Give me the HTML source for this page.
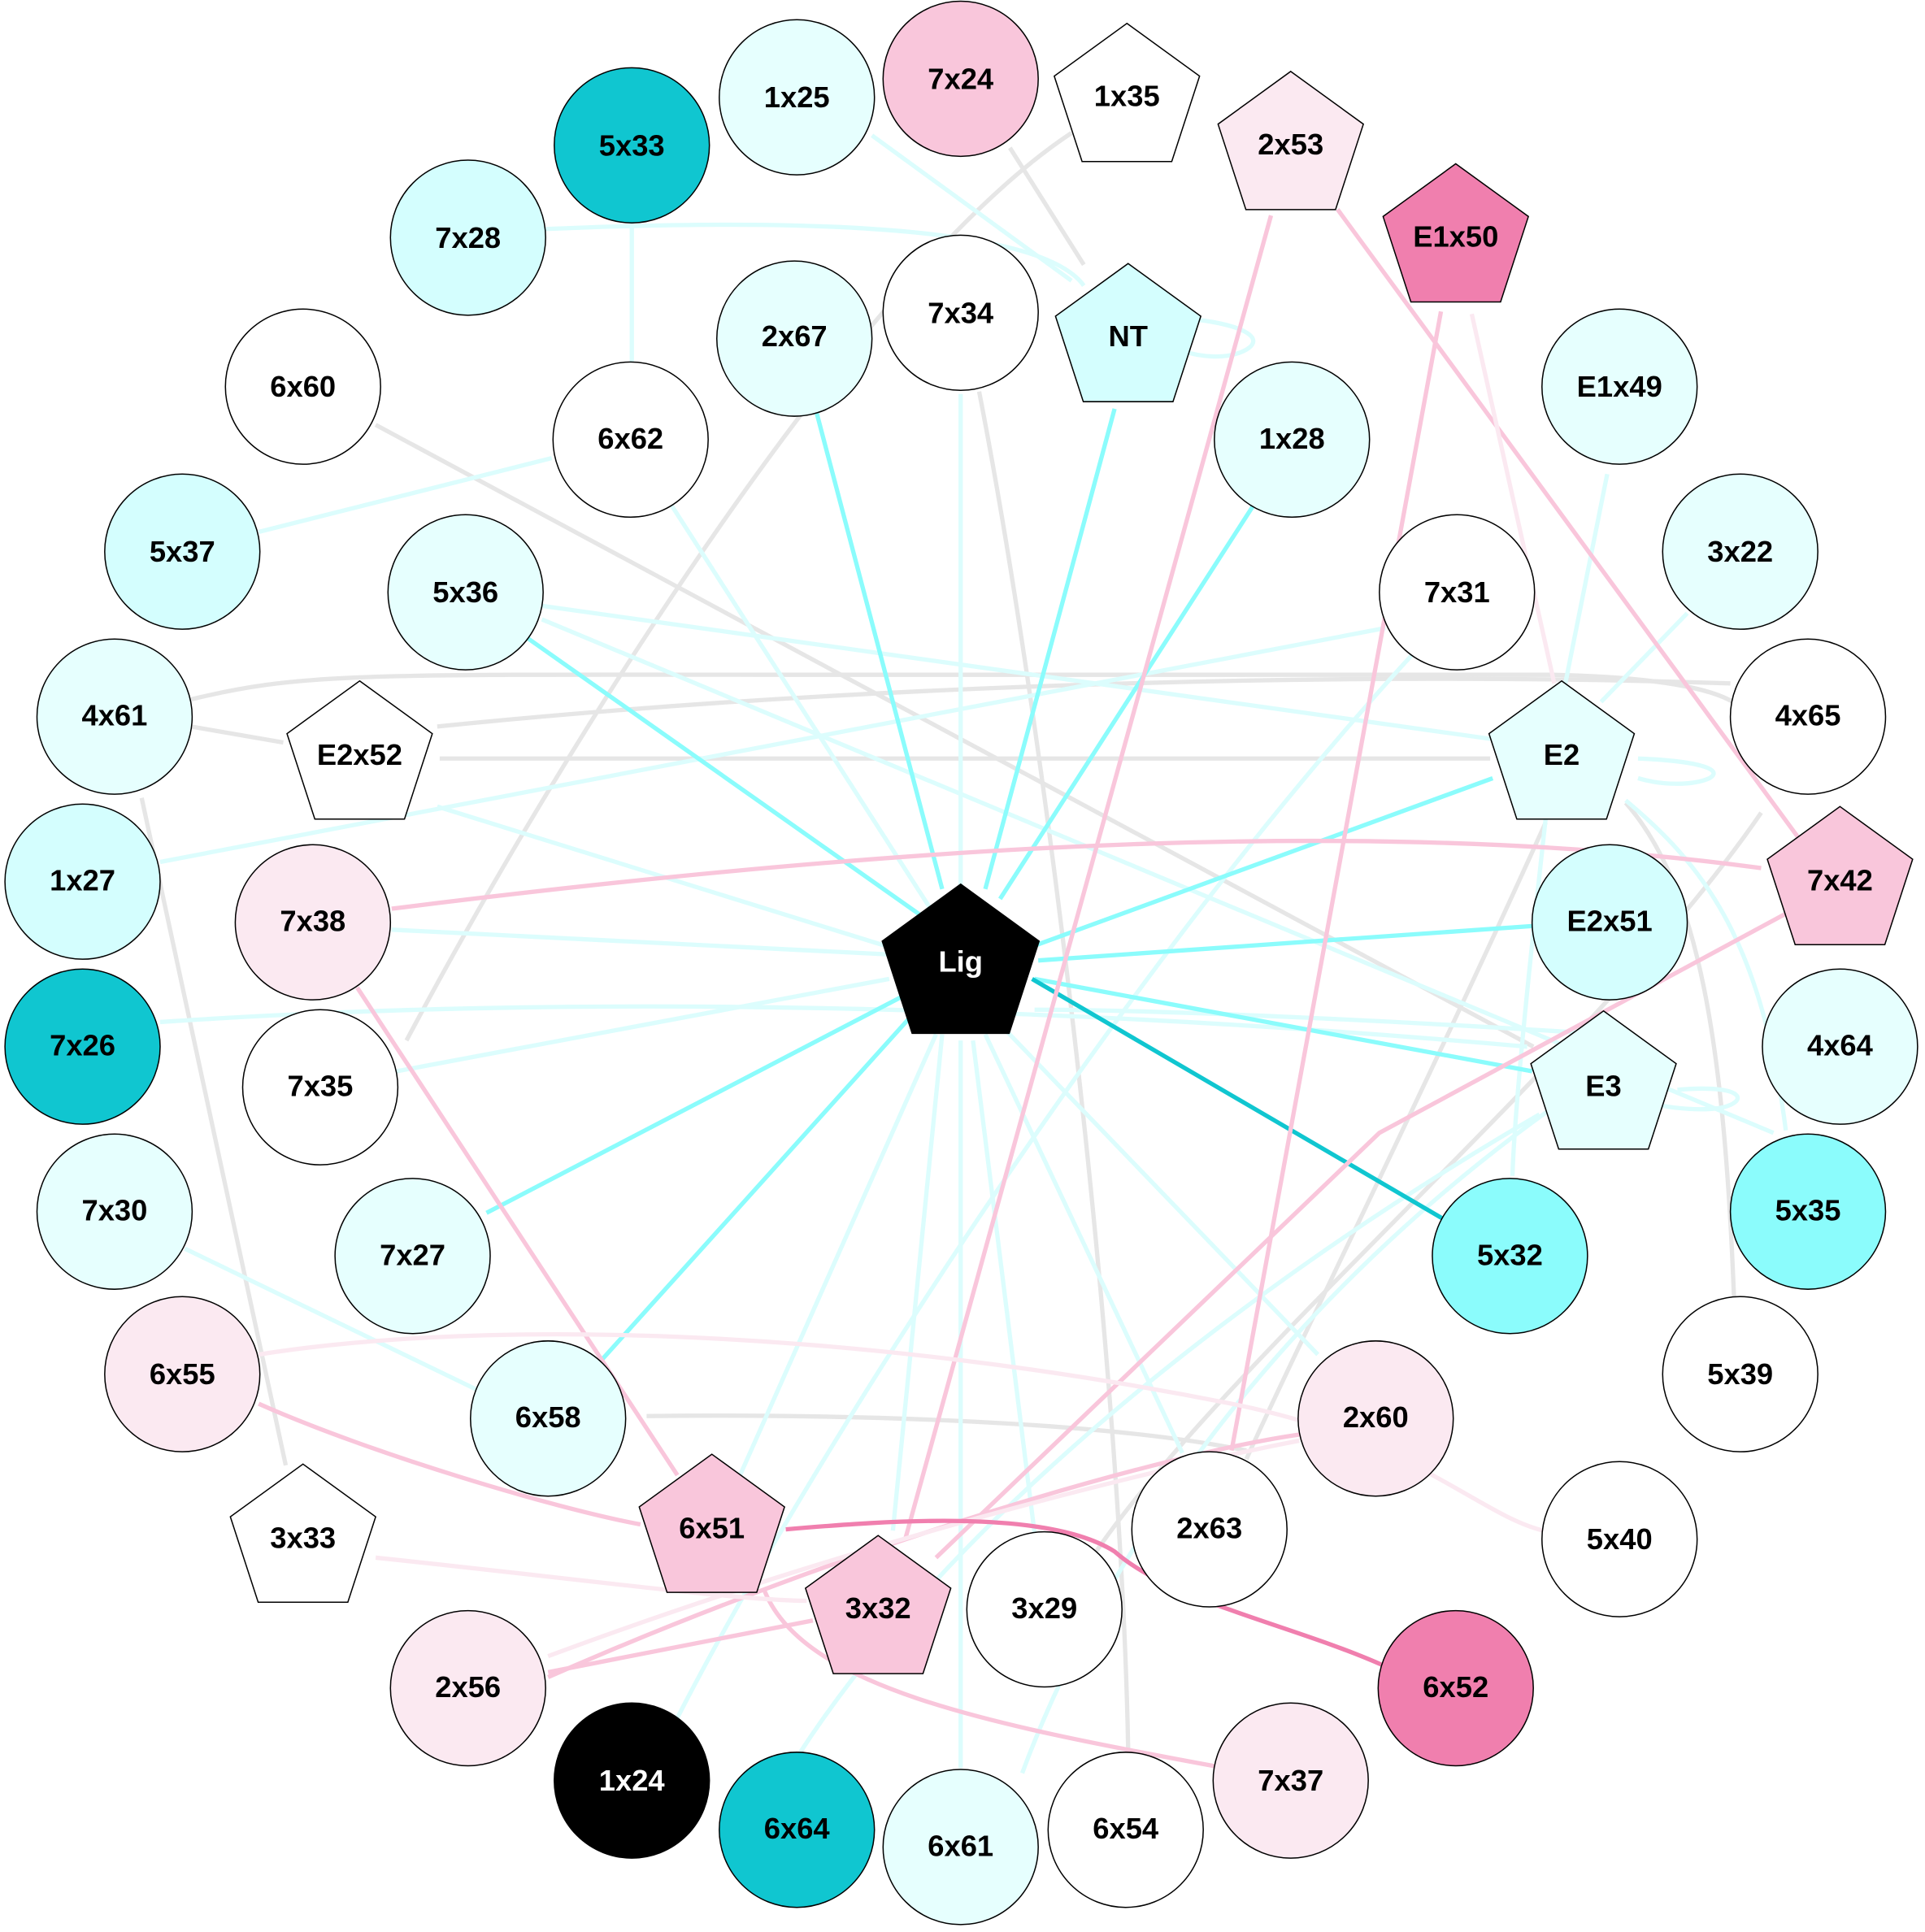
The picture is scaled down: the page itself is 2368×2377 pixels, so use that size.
<!DOCTYPE html>
<html><head><meta charset="utf-8"><style>
html,body{margin:0;padding:0;background:#fff}
svg{display:block}
text{font-family:"Liberation Sans",Arial,sans-serif;font-weight:bold;font-size:24px;text-anchor:middle;dominant-baseline:central}
</style></head><body>
<svg width="2368" height="2377" viewBox="0 0 1563 1569" xmlns="http://www.w3.org/2000/svg">
<g fill="none" stroke-width="3.5">
<g stroke="#e6e6e6">
<path d="M870,108 C700,220 460,600 330,845"/>
<path d="M820,120 L880,215"/>
<path d="M305,345 L1245,850"/>
<path d="M795,318 C850,600 910,1100 916,1420"/>
<path d="M155,568 C250,545 300,548 700,548 L1260,548 C1350,550 1390,560 1407,570"/>
<path d="M355,590 C700,555 1100,545 1405,555"/>
<path d="M357,616 L1210,616"/>
<path d="M155,590 L230,603"/>
<path d="M115,648 L232,1190"/>
<path d="M1255,668 C1150,900 1050,1100 1012,1185"/>
<path d="M1430,660 C1300,850 1000,1100 890,1260"/>
<path d="M1320,652 C1380,720 1400,850 1408,1055"/>
<path d="M525,1150 C700,1148 900,1155 1012,1178"/>
</g>
<g stroke="#dcfdfd">
<path d="M443,186 C700,175 850,190 880,232"/>
<path d="M513,180 L513,295"/>
<path d="M708,110 L870,228"/>
<path d="M955,258 C1010,262 1030,275 1010,285 C995,292 975,290 960,285"/>
<path d="M210,432 L448,372"/>
<path d="M440,492 L1210,600"/>
<path d="M440,503 L1440,920"/>
<path d="M130,700 L1125,510"/>
<path d="M1150,528 C900,800 650,1200 550,1395"/>
<path d="M1330,616 C1380,618 1400,625 1388,632 C1375,638 1350,638 1330,632"/>
<path d="M1362,885 C1420,880 1420,896 1395,900 C1380,902 1360,900 1350,898"/>
<path d="M1305,385 L1270,560"/>
<path d="M1370,498 L1300,570"/>
<path d="M130,830 C500,805 900,820 1240,850"/>
<path d="M1255,665 C1240,800 1230,900 1228,955"/>
<path d="M150,1014 L390,1130"/>
<path d="M1250,905 C1000,1050 750,1250 630,1455"/>
<path d="M1260,900 C1050,1050 900,1250 830,1440"/>
<path d="M545,410 L760,745"/>
<path d="M1320,650 C1380,700 1430,760 1450,918"/>
<path d="M780,320 L780,720"/>
<path d="M355,655 L725,770"/>
<path d="M318,755 L720,775"/>
<path d="M322,870 L722,795"/>
<path d="M765,840 L725,1243"/>
<path d="M780,845 L780,1436"/>
<path d="M800,840 L960,1180"/>
<path d="M815,835 L1070,1100"/>
<path d="M760,840 L600,1200"/>
<path d="M790,845 L840,1245"/>
<path d="M1305,840 C1150,830 950,820 840,820"/>
</g>
<g stroke="#8bfcfc">
<path d="M663,335 L765,722"/>
<path d="M905,332 L800,722"/>
<path d="M1018,410 L812,730"/>
<path d="M428,518 L750,745"/>
<path d="M1212,632 L840,768"/>
<path d="M1245,752 L843,780"/>
<path d="M840,795 L1244,870"/>
<path d="M395,985 L735,808"/>
<path d="M488,1105 L740,825"/>
</g>
<path stroke="#10c6d0" d="M838,795 L1172,990"/>
<g stroke="#f9c6db">
<path d="M1032,175 L735,1250"/>
<path d="M1170,253 L1000,1178"/>
<path d="M1086,170 L1460,680"/>
<path d="M290,802 L550,1198"/>
<path d="M210,1140 C300,1180 450,1225 520,1238"/>
<path d="M620,1290 C650,1370 800,1400 990,1435"/>
<path d="M318,738 C700,690 1100,660 1430,705"/>
<path d="M1450,742 L1120,920 L760,1265"/>
<path d="M445,1358 L660,1316"/>
<path d="M445,1362 C700,1250 950,1180 1055,1165"/>
</g>
<g stroke="#fbe9f1">
<path d="M1195,255 L1262,555"/>
<path d="M210,1100 C400,1070 700,1080 1000,1140 C1150,1170 1200,1230 1253,1243"/>
<path d="M305,1265 C450,1280 600,1300 655,1300"/>
<path d="M445,1345 C700,1250 950,1190 1055,1170"/>
</g>
<path stroke="#f07fae" d="M638,1242 C720,1235 850,1225 905,1260 C950,1300 1050,1320 1122,1352"/>
</g>
<g stroke="#000" stroke-width="1">
<circle cx="647" cy="79" r="63" fill="#e6fffe"/>
<circle cx="780" cy="64" r="63" fill="#f9c6db"/>
<circle cx="513" cy="118" r="63" fill="#10c6d0"/>
<circle cx="380" cy="193" r="63" fill="#d4fefe"/>
<circle cx="645" cy="275" r="63" fill="#e6fffe"/>
<circle cx="780" cy="254" r="63" fill="#fff"/>
<circle cx="246" cy="314" r="63" fill="#fff"/>
<circle cx="1315" cy="314" r="63" fill="#e6fffe"/>
<circle cx="512" cy="357" r="63" fill="#fff"/>
<circle cx="1049" cy="357" r="63" fill="#e6fffe"/>
<circle cx="148" cy="448" r="63" fill="#d4fefe"/>
<circle cx="1413" cy="448" r="63" fill="#e6fffe"/>
<circle cx="378" cy="481" r="63" fill="#e6fffe"/>
<circle cx="1183" cy="481" r="63" fill="#fff"/>
<circle cx="93" cy="582" r="63" fill="#e6fffe"/>
<circle cx="1468" cy="582" r="63" fill="#fff"/>
<circle cx="67" cy="716" r="63" fill="#d4fefe"/>
<circle cx="254" cy="749" r="63" fill="#fbe9f1"/>
<circle cx="1307" cy="749" r="63" fill="#d4fefe"/>
<circle cx="67" cy="850" r="63" fill="#10c6d0"/>
<circle cx="1494" cy="850" r="63" fill="#e6fffe"/>
<circle cx="260" cy="883" r="63" fill="#fff"/>
<circle cx="93" cy="984" r="63" fill="#e6fffe"/>
<circle cx="1468" cy="984" r="63" fill="#8bfcfc"/>
<circle cx="335" cy="1020" r="63" fill="#e6fffe"/>
<circle cx="1226" cy="1020" r="63" fill="#8bfcfc"/>
<circle cx="148" cy="1116" r="63" fill="#fbe9f1"/>
<circle cx="1413" cy="1116" r="63" fill="#fff"/>
<circle cx="445" cy="1152" r="63" fill="#e6fffe"/>
<circle cx="1117" cy="1152" r="63" fill="#fbe9f1"/>
<circle cx="982" cy="1242" r="63" fill="#fff"/>
<circle cx="1315" cy="1250" r="63" fill="#fff"/>
<circle cx="848" cy="1307" r="63" fill="#fff"/>
<circle cx="380" cy="1371" r="63" fill="#fbe9f1"/>
<circle cx="1182" cy="1371" r="63" fill="#f07fae"/>
<circle cx="513" cy="1446" r="63" fill="#000"/>
<circle cx="1048" cy="1446" r="63" fill="#fbe9f1"/>
<circle cx="647" cy="1486" r="63" fill="#10c6d0"/>
<circle cx="780" cy="1500" r="63" fill="#e6fffe"/>
<circle cx="914" cy="1486" r="63" fill="#fff"/>
<polygon transform="translate(915,81)" points="0,-62 59,-19.2 36.4,50.2 -36.4,50.2 -59,-19.2" fill="#fff"/>
<polygon transform="translate(1048,120)" points="0,-62 59,-19.2 36.4,50.2 -36.4,50.2 -59,-19.2" fill="#fbe9f1"/>
<polygon transform="translate(1182,195)" points="0,-62 59,-19.2 36.4,50.2 -36.4,50.2 -59,-19.2" fill="#f07fae"/>
<polygon transform="translate(916,276)" points="0,-62 59,-19.2 36.4,50.2 -36.4,50.2 -59,-19.2" fill="#d4fefe"/>
<polygon transform="translate(292,615)" points="0,-62 59,-19.2 36.4,50.2 -36.4,50.2 -59,-19.2" fill="#fff"/>
<polygon transform="translate(1268,615)" points="0,-62 59,-19.2 36.4,50.2 -36.4,50.2 -59,-19.2" fill="#e6fffe"/>
<polygon transform="translate(1494,717)" points="0,-62 59,-19.2 36.4,50.2 -36.4,50.2 -59,-19.2" fill="#f9c6db"/>
<polygon transform="translate(1302,883)" points="0,-62 59,-19.2 36.4,50.2 -36.4,50.2 -59,-19.2" fill="#e6fffe"/>
<polygon transform="translate(246,1251)" points="0,-62 59,-19.2 36.4,50.2 -36.4,50.2 -59,-19.2" fill="#fff"/>
<polygon transform="translate(578,1243)" points="0,-62 59,-19.2 36.4,50.2 -36.4,50.2 -59,-19.2" fill="#f9c6db"/>
<polygon transform="translate(713,1309)" points="0,-62 59,-19.2 36.4,50.2 -36.4,50.2 -59,-19.2" fill="#f9c6db"/>
<polygon transform="translate(780,785)" points="0,-67 63.7,-20.7 39.4,54.2 -39.4,54.2 -63.7,-20.7" fill="#000"/>
</g>
<g>
<text x="647" y="79">1x25</text><text x="780" y="64">7x24</text><text x="915" y="78">1x35</text>
<text x="1048" y="117">2x53</text><text x="513" y="118">5x33</text><text x="380" y="193">7x28</text>
<text x="1182" y="192">E1x50</text><text x="645" y="273">2x67</text><text x="780" y="254">7x34</text>
<text x="916" y="273">NT</text><text x="246" y="314">6x60</text><text x="1315" y="314">E1x49</text>
<text x="512" y="356">6x62</text><text x="1049" y="356">1x28</text><text x="148" y="448">5x37</text>
<text x="1413" y="448">3x22</text><text x="378" y="481">5x36</text><text x="1183" y="481">7x31</text>
<text x="93" y="581">4x61</text><text x="1468" y="581">4x65</text><text x="292" y="613">E2x52</text>
<text x="1268" y="613">E2</text><text x="67" y="715">1x27</text><text x="1494" y="715">7x42</text>
<text x="254" y="748">7x38</text><text x="1307" y="748">E2x51</text><text x="780" y="781" fill="#fff">Lig</text>
<text x="67" y="849">7x26</text><text x="1494" y="849">4x64</text><text x="260" y="882">7x35</text>
<text x="1302" y="882">E3</text><text x="93" y="983">7x30</text><text x="1468" y="983">5x35</text>
<text x="335" y="1019">7x27</text><text x="1226" y="1019">5x32</text><text x="148" y="1116">6x55</text>
<text x="1413" y="1116">5x39</text><text x="445" y="1151">6x58</text><text x="1117" y="1151">2x60</text>
<text x="246" y="1249">3x33</text><text x="578" y="1241">6x51</text><text x="982" y="1241">2x63</text>
<text x="1315" y="1250">5x40</text><text x="713" y="1306">3x32</text><text x="848" y="1306">3x29</text>
<text x="380" y="1370">2x56</text><text x="1182" y="1370">6x52</text><text x="513" y="1446" fill="#fff">1x24</text>
<text x="1048" y="1446">7x37</text><text x="647" y="1485">6x64</text><text x="780" y="1499">6x61</text>
<text x="914" y="1485">6x54</text>
</g>
</svg>
</body></html>
